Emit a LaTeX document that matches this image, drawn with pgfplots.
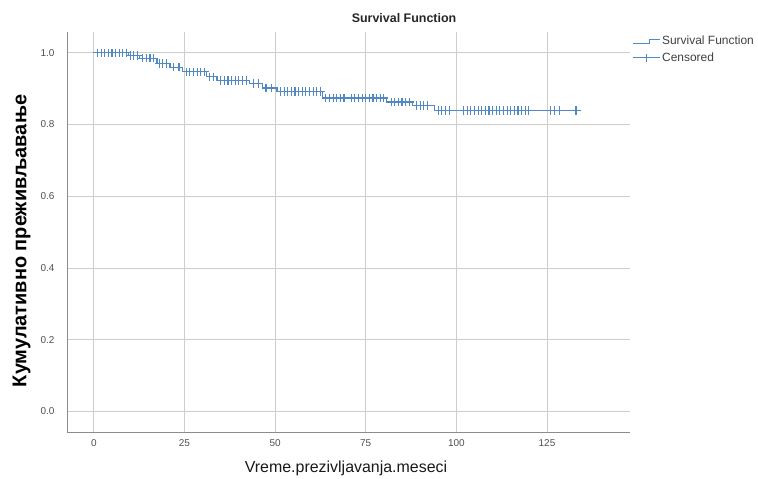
\documentclass[border=0pt]{standalone}
\usepackage{pgfplots}
\pgfplotsset{compat=1.18}
\usepackage{fontspec}
\setmainfont{Liberation Sans}
\definecolor{kmblue}{RGB}{82,136,196}
\definecolor{gridgray}{RGB}{205,205,205}
\definecolor{axgray}{RGB}{140,140,140}
\definecolor{ticktext}{RGB}{80,80,80}
\begin{document}
\begin{tikzpicture}
\begin{axis}[
  at={(0,0)}, anchor=south west,
  scale only axis, width=563bp, height=400bp,
  xmin=-7.4, xmax=147.9, ymin=-0.057, ymax=1.058,
  axis x line*=bottom, axis y line*=left,
  axis line style={-, draw=axgray, line width=0.9bp},
  xtick={0,25,50,75,100,125},
  ytick={0,0.2,0.4,0.6,0.8,1.0},
  grid=major, major grid style={gridgray, line width=0.8bp},
  major tick length=0,
  tick label style={font=\fontsize{10}{12}\selectfont, text=ticktext},
  /pgf/number format/assume math mode=true,
  yticklabel style={/pgf/number format/.cd, fixed, fixed zerofill, precision=1, /tikz/.cd, xshift=-9bp},
  xticklabel style={yshift=-4bp},
  legend style={at={(rel axis cs:1.0036,1.0)}, anchor=north west, draw=none, fill=none,
    font=\fontsize{12}{14}\selectfont, text=black!75, inner sep=0pt, row sep=2.5bp, yshift=-2bp},
  legend cell align=left,
  clip=false,
]
\addplot[kmblue, line width=1.2bp, const plot, forget plot] coordinates {
(0,1.000) (9.5,0.993) (12.7,0.985) (17.4,0.971) (21,0.960) (24.5,0.947)
(31,0.933) (34,0.922) (43,0.915) (46.6,0.902) (50.5,0.892) (63,0.874)
(80.8,0.863) (88,0.853) (94,0.840) (134.5,0.840)
};
\addlegendimage{legend image code/.code={
  \draw[kmblue, line width=0.9bp] (0bp,-2bp) -- (17bp,-2bp) -- (17bp,2bp) -- (27bp,2bp);}}
\addlegendentry{Survival Function}
\addplot[only marks, mark=+, mark size=4.3bp, kmblue, mark options={line width=1.1bp}, forget plot] coordinates {
(1,1.000) (2,1.000) (3,1.000) (4,1.000) (5,1.000) (6,1.000) (7,1.000) (8,1.000) (9,1.000)
(10,0.993) (11,0.993) (12,0.993)
(13.5,0.985) (14.5,0.985) (15.5,0.985) (16.5,0.985)
(18,0.971) (19,0.971) (20,0.971)
(22,0.960) (23.5,0.960)
(25.5,0.947) (26.5,0.947) (27.5,0.947) (28.5,0.947) (29.5,0.947) (30.5,0.947)
(32,0.933) (33,0.933)
(35,0.922) (36,0.922) (37,0.922) (38,0.922) (39,0.922) (40,0.922) (41,0.922) (42,0.922)
(44,0.915) (45.5,0.915)
(47.5,0.902) (49,0.902)
(51.5,0.892) (52.5,0.892) (53.5,0.892) (54.5,0.892) (55.5,0.892) (56.5,0.892) (57.5,0.892) (58.5,0.892) (59.5,0.892) (60.5,0.892) (61.5,0.892) (62.5,0.892)
(64,0.874) (65,0.874) (66,0.874) (67,0.874) (68,0.874) (69,0.874) (71,0.874) (72,0.874) (73,0.874) (74,0.874) (75,0.874) (76,0.874) (77,0.874) (78,0.874) (79,0.874) (80,0.874)
(82,0.863) (83,0.863) (84,0.863) (85,0.863) (86,0.863) (87,0.863)
(89,0.853) (90,0.853) (91,0.853) (92,0.853)
(95,0.840) (96,0.840) (97,0.840) (98,0.840) (102,0.840) (103,0.840) (104,0.840) (105,0.840) (106,0.840) (107,0.840) (108,0.840)
(109,0.840) (110,0.840) (111,0.840) (112,0.840) (113,0.840) (114,0.840) (115,0.840) (116,0.840) (117,0.840) (118,0.840) (119,0.840) (120,0.840)
(126,0.840) (127,0.840) (128.5,0.840) (133,0.840)
};
\addlegendimage{legend image code/.code={
  \draw[kmblue, line width=0.9bp] (0bp,0bp) -- (27bp,0bp);
  \draw[kmblue, line width=0.9bp] (13.5bp,-4bp) -- (13.5bp,4bp);}}
\addlegendentry{Censored}
\node[font=\bfseries\fontsize{12.5}{15}\selectfont, text=black!85] at (rel axis cs:0.5986,1) [yshift=14bp] {Survival Function};
\node[font=\fontsize{16}{19}\selectfont, text=black!90] at (rel axis cs:0.4956,0) [yshift=-36bp] {Vreme.prezivljavanja.meseci};
\end{axis}
\node[font=\bfseries\fontsize{20}{24}\selectfont, rotate=90] at (-45.5bp,191bp) {Кумулативно преживљавање};
\useasboundingbox (-67bp,-47bp) rectangle (691bp,432bp);
\end{tikzpicture}
\end{document}
